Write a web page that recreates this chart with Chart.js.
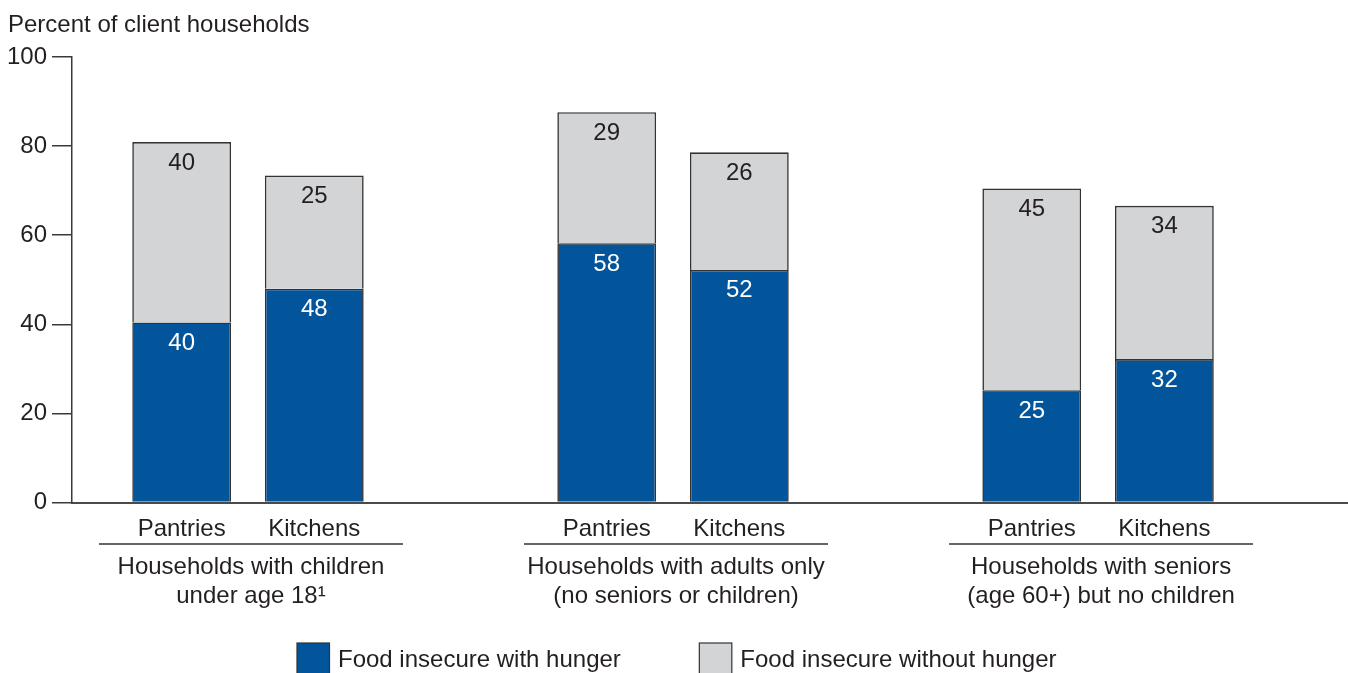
<!DOCTYPE html>
<html>
<head>
<meta charset="utf-8">
<script src="https://cdn.jsdelivr.net/npm/chart.js@4"></script>
<style>
  html, body { margin: 0; padding: 0; background: #ffffff; }
  #wrap { width: 1348px; height: 673px; overflow: hidden; }
</style>
</head>
<body>
<div id="wrap"><canvas id="c" width="1348" height="673"></canvas></div>
<script>
// ---- data ----
const yAxisTitle = 'Percent of client households';
const groupLabels = [
  ['Households with children', 'under age 18\u00B9'],
  ['Households with adults only', '(no seniors or children)'],
  ['Households with seniors', '(age 60+) but no children']
];
const subCategories = ['Pantries', 'Kitchens'];
const seriesNames = ['Food insecure with hunger', 'Food insecure without hunger'];

// bar heights (percent)
const hungerPantries  = [40.4, 58.2, 25.2];
const withoutPantries = [40.5, 29.4, 45.3];
const hungerKitchens  = [48.0, 52.2, 32.2];
const withoutKitchens = [25.4, 26.4, 34.4];

// printed value labels
const hungerPantriesText  = ['40', '58', '25'];
const withoutPantriesText = ['40', '29', '45'];
const hungerKitchensText  = ['48', '52', '32'];
const withoutKitchensText = ['25', '26', '34'];

const yTicks = [0, 20, 40, 60, 80, 100];

// ---- styles ----
const FONT_FAMILY = "'Liberation Sans', Arial, Helvetica, sans-serif";
const TEXT = '#231f20';
const BLUE = '#02559a';
const GRAY = '#d3d4d6';
const EDGE = '#333333';

Chart.defaults.font.family = FONT_FAMILY;
Chart.defaults.font.size = 24;
Chart.defaults.color = TEXT;

const toPoints = arr => arr.map((v, i) => ({ x: i, y: v }));

function mkDataset(label, values, texts, stack, color, textColor) {
  return {
    label, stack,
    data: toPoints(values),
    valueTexts: texts,
    valueColor: textColor,
    backgroundColor: color,
    borderColor: EDGE,
    borderWidth: 1.6,
    borderSkipped: 'start',
    categoryPercentage: 0.624,
    barPercentage: 0.745
  };
}

const datasets = [
  mkDataset(seriesNames[0], hungerPantries,  hungerPantriesText,  subCategories[0], BLUE, '#ffffff'),
  mkDataset(seriesNames[1], withoutPantries, withoutPantriesText, subCategories[0], GRAY, TEXT),
  mkDataset(seriesNames[0], hungerKitchens,  hungerKitchensText,  subCategories[1], BLUE, '#ffffff'),
  mkDataset(seriesNames[1], withoutKitchens, withoutKitchensText, subCategories[1], GRAY, TEXT)
];

const extras = {
  id: 'extras',
  afterDraw(chart) {
    const ctx = chart.ctx;
    const area = chart.chartArea;
    const xs = chart.scales.x;
    ctx.save();
    ctx.font = '24px ' + FONT_FAMILY;
    ctx.fillStyle = TEXT;

    // axis title
    ctx.textAlign = 'left';
    ctx.textBaseline = 'alphabetic';
    ctx.fillText(yAxisTitle, 8, 32.3);

    // value labels inside segments
    ctx.textAlign = 'center';
    chart.data.datasets.forEach((ds, di) => {
      const meta = chart.getDatasetMeta(di);
      meta.data.forEach((bar, i) => {
        ctx.fillStyle = ds.valueColor;
        ctx.fillText(ds.valueTexts[i], bar.x, bar.y + 27.5);
      });
    });

    // sub-category labels under each bar
    ctx.fillStyle = TEXT;
    chart.data.datasets.forEach((ds, di) => {
      if (ds.label !== seriesNames[0]) return;
      const meta = chart.getDatasetMeta(di);
      meta.data.forEach(bar => {
        ctx.fillText(ds.stack, bar.x, area.bottom + 33.5);
      });
    });

    // group underline + group labels
    groupLabels.forEach((lines, gi) => {
      const cx = xs.getPixelForValue(gi) + 3;
      ctx.strokeStyle = EDGE;
      ctx.lineWidth = 1.5;
      ctx.beginPath();
      ctx.moveTo(cx - 152, area.bottom + 41.5);
      ctx.lineTo(cx + 152, area.bottom + 41.5);
      ctx.stroke();
      ctx.fillStyle = TEXT;
      ctx.fillText(lines[0], cx, area.bottom + 71.8);
      ctx.fillText(lines[1], cx, area.bottom + 100.2);
    });

    // legend
    let lx = 297;
    const legendTop = 643;
    [[seriesNames[0], BLUE], [seriesNames[1], GRAY]].forEach(([name, col]) => {
      ctx.fillStyle = col;
      ctx.fillRect(lx, legendTop, 32.5, 40);
      ctx.strokeStyle = EDGE;
      ctx.lineWidth = 1.2;
      ctx.strokeRect(lx, legendTop, 32.5, 40);
      ctx.fillStyle = TEXT;
      ctx.textAlign = 'left';
      ctx.fillText(name, lx + 41, 667.3);
      lx += 41 + ctx.measureText(name).width + 78.5;
    });
    ctx.restore();
  }
};

new Chart(document.getElementById('c'), {
  type: 'bar',
  data: { datasets },
  options: {
    responsive: false,
    animation: false,
    layout: { padding: { top: 57, bottom: 170.5, left: 0, right: 0 } },
    plugins: { legend: { display: false }, tooltip: { enabled: false } },
    scales: {
      x: {
        type: 'linear',
        min: -0.414,
        max: 2.588,
        offset: false,
        afterBuildTicks: s => { s.ticks = groupLabels.map((g, i) => ({ value: i })); },
        afterFit: s => { s.height = 0; },
        ticks: { display: false },
        grid: { display: false },
        border: { display: true, color: '#4a4a4a', width: 2 }
      },
      y: {
        min: 0,
        max: 100,
        stacked: true,
        afterFit: s => { s.width = 72; },
        afterBuildTicks: s => { s.ticks = yTicks.map(v => ({ value: v })); },
        ticks: { padding: 5, color: TEXT, font: { size: 24 } },
        grid: { drawOnChartArea: false, drawTicks: true, tickLength: 20, color: '#3a3a3a', lineWidth: 1.5 },
        border: { display: true, color: '#3a3a3a', width: 1.5 }
      }
    }
  },
  plugins: [extras]
});
</script>
</body>
</html>
